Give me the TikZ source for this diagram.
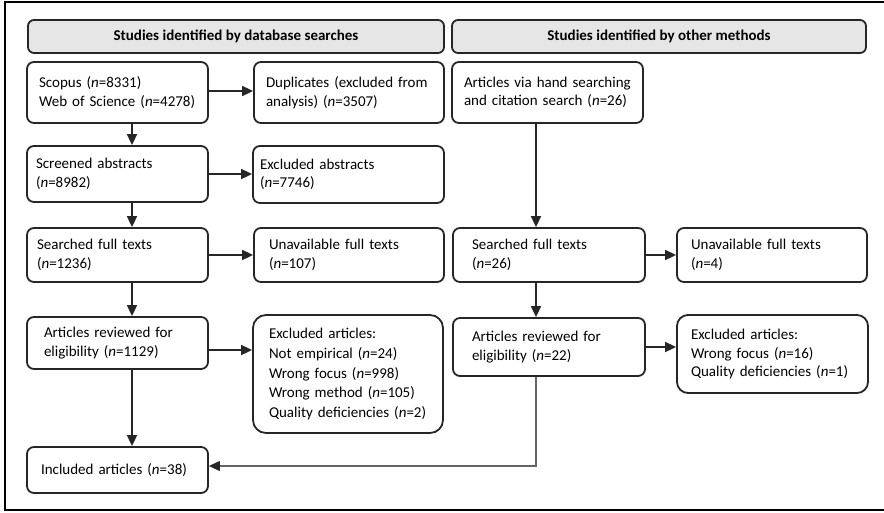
\documentclass[tikz,border=0pt]{standalone}
\usepackage{fontspec}
\setmainfont{Carlito}
\usepackage{tikz}
\usetikzlibrary{arrows.meta, positioning, calc}
\tikzset{>={Triangle[length=11pt,width=10pt]}}
\definecolor{boxline}{HTML}{262626}
\definecolor{headfill}{HTML}{E6E6E6}
\tikzset{
  box/.style={draw=boxline, line width=1.8pt, rounded corners=7pt, align=left, inner ysep=0pt, font=\fontsize{15}{18.5}\selectfont},
  head/.style={draw=boxline, line width=1.8pt, rounded corners=6pt, fill=headfill, align=center, inner sep=0pt, font=\fontsize{15}{18.5}\selectfont\bfseries},
  arr/.style={->, line width=1.7pt, draw=boxline},
  backline/.style={-{Triangle[length=11pt,width=10pt,color=boxline]}, line width=1.2pt, draw=black!60}
}

\begin{document}
\begin{tikzpicture}[x=1pt, y=-1pt]
\useasboundingbox (0,0) rectangle (884,512);
\draw [line width=1.2pt] (5,2) rectangle (900,510);

\node [head, minimum width=416pt, minimum height=33pt] (dbhead) at (236,36.5) {Studies identified by database searches};
\node [head, minimum width=414pt, minimum height=33pt] (othead) at (659,36.5) {Studies identified by other methods};

\node [box, text width=157pt, inner xsep=12pt, minimum height=61pt] (scopus) at (117.5,92.5) {Scopus (\textit{n}=8331)\\Web of Science (\textit{n}=4278)};
\node [box, text width=166pt, inner xsep=12pt, minimum height=61pt] (dupl) at (349,92.5) {Duplicates (excluded from\\analysis) (\textit{n}=3507)};
\node [box, text width=163pt, inner xsep=9pt, minimum height=56pt] (screened) at (117.5,174) {Screened abstracts\\(\textit{n}=8982)};
\node [box, text width=177pt, inner xsep=7pt, minimum height=57pt] (exabs) at (348.5,174.5) {Excluded abstracts\\(\textit{n}=7746)};
\node [box, text width=161pt, inner xsep=10pt, minimum height=54pt] (fulltext) at (117.5,255) {Searched full texts\\(\textit{n}=1236)};
\node [box, text width=160pt, inner xsep=15pt, minimum height=54pt] (unavail) at (349,255) {Unavailable full texts\\(\textit{n}=107)};
\node [box, text width=147pt, inner xsep=17pt, minimum height=52pt] (eligible) at (117.5,343) {Articles reviewed for\\eligibility (\textit{n}=1129)};
\node [box, rounded corners=13pt, text width=158pt, inner xsep=16pt, minimum height=118pt, font=\fontsize{15}{19.7}\selectfont] (exart) at (348,374) {Excluded articles:\\Not empirical (\textit{n}=24)\\Wrong focus (\textit{n}=998)\\Wrong method (\textit{n}=105)\\Quality deficiencies (\textit{n}=2)};
\node [box, text width=153pt, inner xsep=14pt, minimum height=46pt] (included) at (117.5,470) {Included articles (\textit{n}=38)};

\node [box, text width=167pt, inner xsep=12pt, minimum height=61pt] (handsearch) at (547.5,92.5) {Articles via hand searching\\and citation search (\textit{n}=26)};
\node [box, text width=154pt, inner xsep=19pt, minimum height=54pt] (fulltexttwo) at (549,255) {Searched full texts\\(\textit{n}=26)};
\node [box, text width=162pt, inner xsep=14pt, minimum height=54pt] (unavailtwo) at (772,255) {Unavailable full texts\\(\textit{n}=4)};
\node [box, text width=154pt, inner xsep=19pt, minimum height=58pt] (eligibletwo) at (549,347) {Articles reviewed for\\eligibility (\textit{n}=22)};
\node [box, rounded corners=11pt, text width=163pt, inner xsep=14pt, minimum height=78pt] (exarttwo) at (772.5,354) {Excluded articles:\\Wrong focus (\textit{n}=16)\\Quality deficiencies (\textit{n}=1)};

\coordinate (lx) at (132,0);
\coordinate (rx) at (536,0);
\coordinate (scopusout) at ([yshift=1.5pt]scopus.east);
\coordinate (eligout) at ([yshift=-7pt]eligible.east);

\draw [arr] (scopus.south -| lx) -- (screened.north -| lx);
\draw [arr] (screened.south -| lx) -- (fulltext.north -| lx);
\draw [arr] (fulltext.south -| lx) -- (eligible.north -| lx);
\draw [arr] (eligible.south -| lx) -- (included.north -| lx);
\draw [arr] (scopusout) -- (scopusout -| dupl.west);
\draw [arr] (screened.east) -- (screened.east -| exabs.west);
\draw [arr] (fulltext.east) -- (fulltext.east -| unavail.west);
\draw [arr] (eligout) -- (eligout -| exart.west);

\draw [arr] (handsearch.south -| rx) -- (fulltexttwo.north -| rx);
\draw [arr] (fulltexttwo.south -| rx) -- (eligibletwo.north -| rx);
\draw [arr] (fulltexttwo.east) -- (fulltexttwo.east -| unavailtwo.west);
\draw [arr] (eligibletwo.east) -- (eligibletwo.east -| exarttwo.west);
\draw [backline] (eligibletwo.south -| rx) |- ([yshift=4pt]included.east);
\end{tikzpicture}
\end{document}
